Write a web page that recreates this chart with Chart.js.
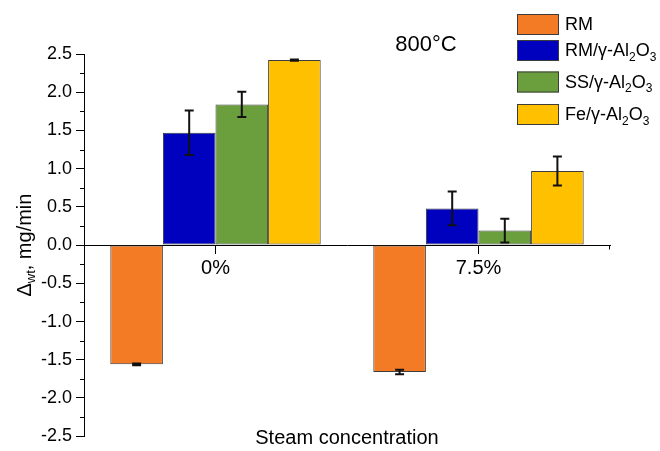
<!DOCTYPE html>
<html>
<head>
<meta charset="utf-8">
<script src="https://cdn.jsdelivr.net/npm/chart.js@4/dist/chart.umd.min.js"></script>
<style>
  html, body { margin: 0; padding: 0; background: #fff; }
  #wrap { width: 660px; height: 451px; position: relative; }
</style>
</head>
<body>
<div id="wrap"><canvas id="c" width="660" height="451"></canvas></div>
<script>
// Steam concentrations (categories)
const categories = ['0%', '7.5%'];

// Weight-change rate, mg/min, per material
const rmValues     = [-1.56, -1.66];
const rmAlValues   = [1.47, 0.48];
const ssAlValues   = [1.84, 0.19];
const feAlValues   = [2.42, 0.97];

// Standard deviations (error bars)
const rmErrors     = [0.012, 0.03];
const rmAlErrors   = [0.29, 0.22];
const ssAlErrors   = [0.165, 0.155];
const feAlErrors   = [0.008, 0.19];

// Series names as text runs: [text, isSubscript]
const seriesNames = [
  [['RM', false]],
  [['RM/\u03B3-Al', false], ['2', true], ['O', false], ['3', true]],
  [['SS/\u03B3-Al', false], ['2', true], ['O', false], ['3', true]],
  [['Fe/\u03B3-Al', false], ['2', true], ['O', false], ['3', true]]
];

// Y-axis range and ticks
const yMin = -2.5, yMax = 2.5, yMajorStep = 0.5, yMinorStep = 0.25;

const FONT = '"Liberation Sans", Arial, sans-serif';
const colors = ['#F47B25', '#0000BF', '#6B9E3C', '#FFC000'];
const edge = '#3C3C3C';

const errorSets = [rmErrors, rmAlErrors, ssAlErrors, feAlErrors];

function mkDataset(i, data) {
  return {
    data: data,
    errors: errorSets[i],
    backgroundColor: colors[i],
    borderColor: edge,
    borderWidth: 1,
    borderSkipped: false,
    categoryPercentage: 0.8,
    barPercentage: 1.0
  };
}

// Draws text runs with subscripts, returns total width
function drawRuns(ctx, runs, x, y, size, measureOnly) {
  let cx = x;
  for (const [txt, sub] of runs) {
    const fs = sub ? Math.round(size * 0.65) : size;
    ctx.font = fs + 'px ' + FONT;
    if (!measureOnly) ctx.fillText(txt, cx, sub ? y + size * 0.32 : y);
    cx += ctx.measureText(txt).width;
  }
  return cx - x;
}

const decorations = {
  id: 'decorations',
  afterDatasetsDraw(chart) {
    const ctx = chart.ctx;
    const ys = chart.scales.y;
    const area = chart.chartArea;
    ctx.save();

    // error bars
    ctx.strokeStyle = '#111';
    ctx.lineWidth = 2;
    chart.data.datasets.forEach((ds, di) => {
      const meta = chart.getDatasetMeta(di);
      meta.data.forEach((bar, j) => {
        const v = ds.data[j], e = ds.errors[j];
        const x = bar.x;
        const y1 = ys.getPixelForValue(v + e), y2 = ys.getPixelForValue(v - e);
        ctx.beginPath();
        ctx.moveTo(x, y1); ctx.lineTo(x, y2);
        ctx.moveTo(x - 4.5, y1); ctx.lineTo(x + 4.5, y1);
        ctx.moveTo(x - 4.5, y2); ctx.lineTo(x + 4.5, y2);
        ctx.stroke();
      });
    });

    // minor ticks on the y axis
    ctx.strokeStyle = '#000';
    ctx.lineWidth = 1;
    const n = Math.round((yMax - yMin) / yMinorStep);
    for (let k = 0; k <= n; k++) {
      const v = yMin + k * yMinorStep;
      if (Math.abs(v / yMajorStep - Math.round(v / yMajorStep)) < 1e-6) continue;
      const py = Math.round(ys.getPixelForValue(v)) + 0.5;
      ctx.beginPath();
      ctx.moveTo(area.left - 4, py); ctx.lineTo(area.left, py);
      ctx.stroke();
    }
    // end tick on the zero axis
    const zy = Math.round(ys.getPixelForValue(0)) + 0.5;
    ctx.beginPath();
    ctx.moveTo(area.right - 0.5, zy); ctx.lineTo(area.right - 0.5, zy + 4);
    ctx.stroke();

    // titles
    ctx.fillStyle = '#000';
    ctx.textBaseline = 'middle';
    ctx.textAlign = 'center';
    ctx.font = '20px ' + FONT;
    ctx.fillText('Steam concentration', (area.left + area.right) / 2, 438);
    ctx.font = '22px ' + FONT;
    ctx.fillText('800\u00B0C', 426, 45);

    ctx.textAlign = 'left';
    ctx.save();
    ctx.translate(25, ys.getPixelForValue(0));
    ctx.rotate(-Math.PI / 2);
    const yTitle = [['\u0394', false], ['wt', true], [', mg/min', false]];
    const w = drawRuns(ctx, yTitle, 0, 0, 20, true);
    drawRuns(ctx, yTitle, -w / 2, 0, 20, false);
    ctx.restore();

    // legend
    const boxX = 517, boxW = 42, boxH = 21;
    const rowTops = [14, 40, 71.5, 104];
    seriesNames.forEach((runs, i) => {
      const top = rowTops[i];
      ctx.fillStyle = colors[i];
      ctx.fillRect(boxX, top, boxW, boxH);
      ctx.strokeStyle = edge;
      ctx.lineWidth = 1;
      ctx.strokeRect(boxX + 0.5, top + 0.5, boxW - 1, boxH - 1);
      ctx.fillStyle = '#000';
      drawRuns(ctx, runs, 565, top + boxH / 2 + 1, 18, false);
    });

    ctx.restore();
  }
};

new Chart(document.getElementById('c'), {
  type: 'bar',
  data: {
    labels: categories,
    datasets: [
      mkDataset(0, rmValues),
      mkDataset(1, rmAlValues),
      mkDataset(2, ssAlValues),
      mkDataset(3, feAlValues)
    ]
  },
  options: {
    responsive: false,
    animation: false,
    layout: { padding: { left: 0, right: 50, top: 54, bottom: 11 } },
    plugins: { legend: { display: false }, tooltip: { enabled: false } },
    scales: {
      x: {
        position: { y: 0 },
        offset: true,
        grid: { display: true, offset: false, drawOnChartArea: false, tickLength: 8, color: '#000' },
        border: { display: true, color: '#000', width: 1 },
        ticks: { color: '#000', font: { family: FONT, size: 20 }, padding: 3, maxRotation: 0 }
      },
      y: {
        min: yMin,
        max: yMax,
        afterFit(scale) { scale.width = 84; },
        grid: { display: true, drawOnChartArea: false, tickLength: 8, color: '#000' },
        border: { display: true, color: '#000', width: 1 },
        ticks: {
          stepSize: yMajorStep,
          color: '#000',
          padding: 4,
          font: { family: FONT, size: 18 },
          callback: (v) => Number(v).toFixed(1)
        }
      }
    }
  },
  plugins: [decorations]
});
</script>
</body>
</html>
